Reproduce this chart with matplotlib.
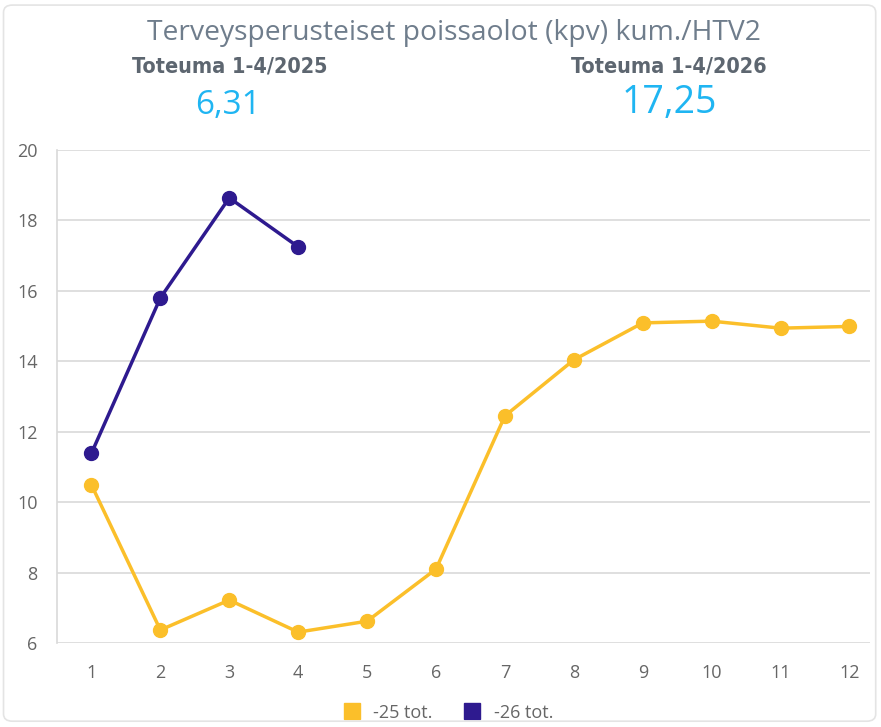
import matplotlib.pyplot as plt
from matplotlib.patches import FancyBboxPatch

months = [1, 2, 3, 4, 5, 6, 7, 8, 9, 10, 11, 12]
tot_25 = [10.49, 6.37, 7.22, 6.31, 6.62, 8.10, 12.45, 14.04, 15.09, 15.14, 14.94, 14.99]
months_26 = [1, 2, 3, 4]
tot_26 = [11.39, 15.80, 18.64, 17.25]

title = 'Terveysperusteiset poissaolot (kpv) kum./HTV2'
kpi_labels = ['Toteuma 1-4/2025', 'Toteuma 1-4/2026']
kpi_values = ['6,31', '17,25']

yellow = '#FBBF2A'
purple = '#2E1A8F'

plt.rcParams['font.family'] = ['Open Sans', 'DejaVu Sans']

fig = plt.figure(figsize=(8.81, 7.27), dpi=100)
fig.patches.append(FancyBboxPatch((0.004, 0.008), 0.99, 0.985,
                                  boxstyle='round,pad=0,rounding_size=0.01',
                                  transform=fig.transFigure, fill=False,
                                  edgecolor='#e4e4e4', linewidth=1.2))

ax = fig.add_axes([0.0647, 0.1155, 0.923, 0.6782])

ax.plot(months, tot_25, color=yellow, linewidth=2.5, marker='o',
        markersize=10, label='-25 tot.', zorder=3)
ax.plot(months_26, tot_26, color=purple, linewidth=2.5, marker='o',
        markersize=10, label='-26 tot.', zorder=4)

ax.set_ylim(6, 20)
ax.set_xlim(0.5, 12.3)
ax.set_yticks(range(6, 21, 2))
ax.set_xticks(months)
ax.grid(axis='y', color='#d9d9d9', linewidth=1.2)
ax.set_axisbelow(True)
for s in ['top', 'right', 'bottom']:
    ax.spines[s].set_visible(False)
ax.spines['left'].set_color('#d9d9d9')
ax.spines['left'].set_linewidth(1.2)
ax.tick_params(length=0, labelsize=13, colors='#666666')
ax.tick_params(axis='x', pad=15)
ax.tick_params(axis='y', pad=14)

leg = ax.legend(loc='upper center', bbox_to_anchor=(0.482, -0.09), ncol=2,
                frameon=False, fontsize=13, handlelength=0.8,
                handleheight=0.9, columnspacing=1.8, handletextpad=0.8)
for h in leg.legend_handles:
    h.set_marker('s')
    h.set_markersize(12)
    h.set_linestyle('none')
for t in leg.get_texts():
    t.set_color('#666666')

fig.text(0.515, 0.955, title, ha='center', va='center', fontsize=20.3,
         color='#6f7d8c')
fig.text(0.261, 0.909, kpi_labels[0], ha='center', va='center', fontsize=15.5,
         fontweight='bold', color='#5d6670', family='DejaVu Sans',
         fontstretch='condensed')
fig.text(0.759, 0.909, kpi_labels[1], ha='center', va='center', fontsize=15.5,
         fontweight='bold', color='#5d6670', family='DejaVu Sans',
         fontstretch='condensed')
fig.text(0.259, 0.855, kpi_values[0], ha='center', va='center', fontsize=24,
         color='#1fb5f2')
fig.text(0.76, 0.858, kpi_values[1], ha='center', va='center', fontsize=27,
         color='#1fb5f2')

fig.savefig('out.png', dpi=100)
